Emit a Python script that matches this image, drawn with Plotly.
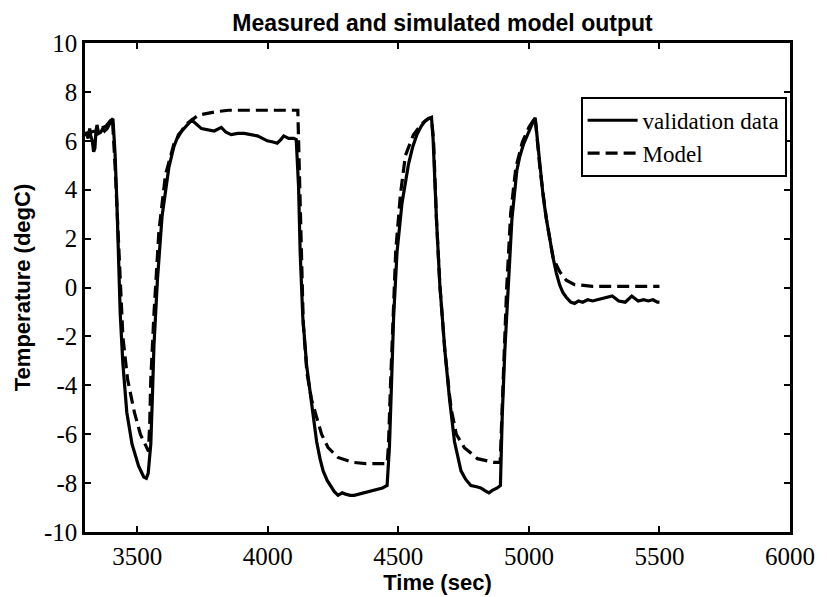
import plotly.graph_objects as go

# Validation data (measured)
val_t = [3300, 3305, 3312, 3318, 3322, 3328, 3333, 3338, 3342, 3346, 3352, 3360, 3368, 3375, 3385, 3393, 3401, 3407,
         3415, 3422, 3428, 3435, 3445, 3460, 3480, 3505, 3525, 3535, 3542, 3547, 3552, 3558, 3564, 3577, 3595, 3621,
         3640, 3658, 3690, 3709, 3746, 3780, 3795, 3822, 3840, 3860, 3885, 3910, 3935, 3960, 3980, 3998, 4020, 4036,
         4050, 4061, 4080, 4099, 4109, 4118, 4124, 4134, 4149, 4168, 4187, 4200, 4212, 4228, 4243, 4255, 4269, 4285,
         4298, 4315, 4331, 4350, 4363, 4380, 4401, 4420, 4439, 4457, 4466, 4474, 4482, 4495, 4514, 4539, 4555, 4571,
         4588, 4602, 4615, 4627, 4633, 4646, 4659, 4678, 4696, 4715, 4728, 4740, 4758, 4778, 4800, 4816, 4830, 4847,
         4860, 4879, 4891, 4898, 4908, 4920, 4935, 4954, 4965, 4979, 4992, 5005, 5015, 5024, 5033, 5043, 5055, 5067,
         5080, 5093, 5105, 5118, 5130, 5143, 5160, 5175, 5190, 5206, 5225, 5244, 5262, 5281, 5300, 5319, 5332, 5344,
         5369, 5382, 5394, 5406, 5419, 5440, 5457, 5475, 5492, 5500]
val_y = [6.2, 6.3, 6.1, 6.5, 6.2, 6.0, 5.55, 5.7, 6.4, 6.65, 6.3, 6.35, 6.5, 6.4, 6.5, 6.7, 6.85, 6.9,
         5.5, 3.5, 1.0, -1.1, -3.1, -5.1, -6.4, -7.3, -7.75, -7.8, -7.6, -7.0, -6.4, -4.5, -2.4, 0.25, 2.9, 4.9,
         5.75, 6.25, 6.65, 6.85, 6.5, 6.45, 6.4, 6.55, 6.35, 6.25, 6.3, 6.3, 6.25, 6.2, 6.1, 6.0, 5.95, 5.9,
         6.05, 6.2, 6.1, 6.1, 6.05, 4.1, 1.45, -1.2, -3.2, -4.7, -6.3, -7.0, -7.5, -7.9, -8.15, -8.35, -8.5, -8.4,
         -8.45, -8.5, -8.5, -8.45, -8.4, -8.35, -8.3, -8.25, -8.2, -8.1, -6.5, -3.9, -1.2, 1.45, 3.45, 5.05, 5.75, 6.25,
         6.6, 6.8, 6.9, 6.95, 6.1, 2.8, 0.1, -2.55, -4.55, -6.3, -7.0, -7.5, -7.85, -8.1, -8.15, -8.2, -8.3, -8.4,
         -8.3, -8.2, -8.1, -5.2, -2.55, 0.1, 2.8, 4.8, 5.35, 5.85, 6.2, 6.5, 6.75, 6.95, 6.0, 4.8, 3.7, 2.8,
         1.9, 1.2, 0.6, 0.1, -0.2, -0.4, -0.6, -0.65, -0.55, -0.6, -0.5, -0.55, -0.5, -0.45, -0.4, -0.35, -0.45, -0.55,
         -0.6, -0.45, -0.35, -0.45, -0.55, -0.5, -0.55, -0.5, -0.6, -0.6]

# Simulated model output
mod_t = [3300, 3320, 3340, 3360, 3380, 3395, 3405, 3415, 3425, 3435, 3445, 3463, 3489, 3512, 3535, 3543, 3548,
         3552, 3564, 3583, 3608, 3640, 3684, 3734, 3809, 3850, 4115, 4118, 4122, 4128, 4136, 4150, 4168, 4187,
         4206, 4231, 4269, 4325, 4376, 4457, 4462, 4470, 4478, 4490, 4508, 4527, 4558, 4590, 4614, 4627, 4635,
         4646, 4659, 4678, 4696, 4703, 4722, 4753, 4803, 4866, 4890, 4895, 4905, 4915, 4930, 4950, 4975, 5000,
         5024, 5043, 5067, 5093, 5118, 5143, 5175, 5244, 5500]
mod_y = [6.3, 6.35, 6.4, 6.5, 6.6, 6.8, 6.9, 5.0, 2.5, 0.0, -2.0, -3.75, -5.1, -6.0, -6.5, -6.7, -5.5,
         -3.75, -1.1, 2.3, 4.6, 5.85, 6.65, 7.05, 7.2, 7.25, 7.25, 6.0, 3.5, 1.0, -1.5, -3.5, -4.6, -5.3,
         -6.0, -6.55, -6.95, -7.15, -7.2, -7.2, -6.5, -4.0, -1.5, 1.5, 3.8, 5.4, 6.25, 6.7, 6.9, 6.95, 6.0,
         2.8, 0.1, -2.55, -4.4, -5.0, -6.0, -6.55, -7.0, -7.15, -7.15, -5.5, -2.8, 0.0, 3.0, 4.9, 5.95, 6.55,
         6.95, 4.8, 2.8, 1.2, 0.65, 0.3, 0.12, 0.05, 0.05]

x_ticks = [3500, 4000, 4500, 5000, 5500, 6000]
y_ticks = [-10, -8, -6, -4, -2, 0, 2, 4, 6, 8, 10]

fig = go.Figure()
fig.add_trace(go.Scatter(x=val_t, y=val_y, mode="lines", name="validation data",
                         line=dict(color="black", width=3.2)))
fig.add_trace(go.Scatter(x=mod_t, y=mod_y, mode="lines", name="Model",
                         line=dict(color="black", width=3.2, dash="12px,6px")))

serif = "Liberation Serif"
sans = "Liberation Sans"

axis_common = dict(showline=True, linecolor="black", linewidth=2.5, mirror="ticks",
                   ticks="inside", ticklen=6, tickwidth=1.5, tickcolor="black",
                   showgrid=False, zeroline=False,
                   tickfont=dict(family=serif, size=25, color="black"))

fig.update_xaxes(range=[3300, 6000], tickvals=x_ticks, ticktext=[str(v) for v in x_ticks],
                 title=dict(text="<b>Time (sec)</b>", font=dict(family=sans, size=22, color="black"), standoff=0),
                 **axis_common)
fig.update_yaxes(range=[-10, 10], tickvals=y_ticks, ticktext=[str(v) for v in y_ticks],
                 title=dict(text="<b>Temperature (degC)</b>", font=dict(family=sans, size=22, color="black"), standoff=8),
                 **axis_common)

fig.update_layout(
    width=827, height=597,
    margin=dict(l=85, r=27, t=43, b=54),
    paper_bgcolor="white", plot_bgcolor="white",
    title=dict(text="<b>Measured and simulated model output</b>", x=0.535, xanchor="center",
               y=0.962, yanchor="middle", font=dict(family=sans, size=23, color="black")),
    legend=dict(x=0.703, y=0.89, xanchor="left", yanchor="top",
                bgcolor="white", bordercolor="black", borderwidth=2,
                font=dict(family=serif, size=23, color="black"),
                itemwidth=50, tracegroupgap=0),
    showlegend=True,
)

fig.write_html("out.html")
